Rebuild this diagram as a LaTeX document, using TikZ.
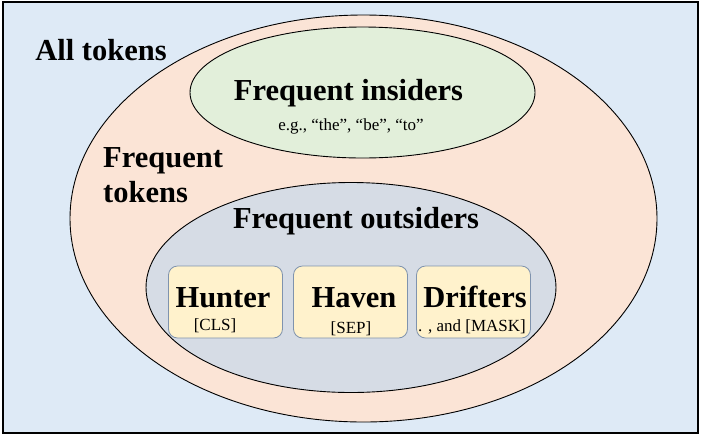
\documentclass[tikz,border=0pt]{standalone}
\usepackage{fontspec}
\setmainfont{Liberation Serif}
\usetikzlibrary{shapes.geometric}
\definecolor{skyfill}{HTML}{DEEAF6}
\definecolor{peachfill}{HTML}{FBE4D6}
\definecolor{mintfill}{HTML}{E2EFDA}
\definecolor{slatefill}{HTML}{D6DCE5}
\definecolor{creamfill}{HTML}{FFF2CC}
\definecolor{boxedge}{HTML}{7F93AE}
\tikzset{
  x=1pt, y=-1pt,
  region/.style={ellipse, draw=black, line width=0.9pt, inner sep=0pt},
  title/.style={font=\fontsize{30.5}{35}\selectfont\bfseries, inner sep=0pt, anchor=base},
  note/.style={font=\fontsize{17}{20}\selectfont, inner sep=0pt, anchor=base},
  tokenbox/.style={draw=boxedge, fill=creamfill, line width=0.8pt, rounded corners=9pt,
    minimum width=114pt, minimum height=72pt, inner sep=0pt}
}
\begin{document}
\begin{tikzpicture}
\useasboundingbox (0,0) rectangle (701,437);
% frame holding every token
\node[draw=black, line width=1.4pt, fill=skyfill, minimum width=695pt, minimum height=431pt,
  inner sep=0pt] (all) at (350.5,217.5) {};
% nested token sets
\node[region, fill=peachfill, minimum width=587pt, minimum height=407pt] (freq) at (363.5,218.5) {};
\node[region, fill=mintfill, minimum width=345pt, minimum height=131pt] (ins) at (362.5,92.5) {};
\node[region, fill=slatefill, minimum width=410pt, minimum height=210pt] (outs) at (351,287.5) {};
% labels of the sets
\node[title] (allLbl) at (101,60) {All tokens};
\node[title, anchor=base west] (freqLbl1) at (103,167) {Frequent};
\node[title, anchor=base west] (freqLbl2) at (103,202) {tokens};
\node[title] (insLbl) at (348.5,100) {Frequent insiders};
\node[note] (insNote) at (351,130) {e.g., “the”, “be”, “to”};
\node[title] (outsLbl) at (356,228) {Frequent outsiders};
% the three roles among frequent outsiders
\node[tokenbox] (hunter) at (225.5,302) {};
\node[tokenbox] (haven) at (350.5,302) {};
\node[tokenbox] (drift) at (473.5,302) {};
\node[title] (hunterLbl) at (223,307) {Hunter};
\node[note] (hunterNote) at (215,330) {[CLS]};
\node[title] (havenLbl) at (354,307) {Haven};
\node[note] (havenNote) at (351,333) {[SEP]};
\node[title] (driftLbl) at (475,307) {Drifters};
\node[note] (driftNote) at (472,331) {. , and [MASK]};
\end{tikzpicture}
\end{document}
